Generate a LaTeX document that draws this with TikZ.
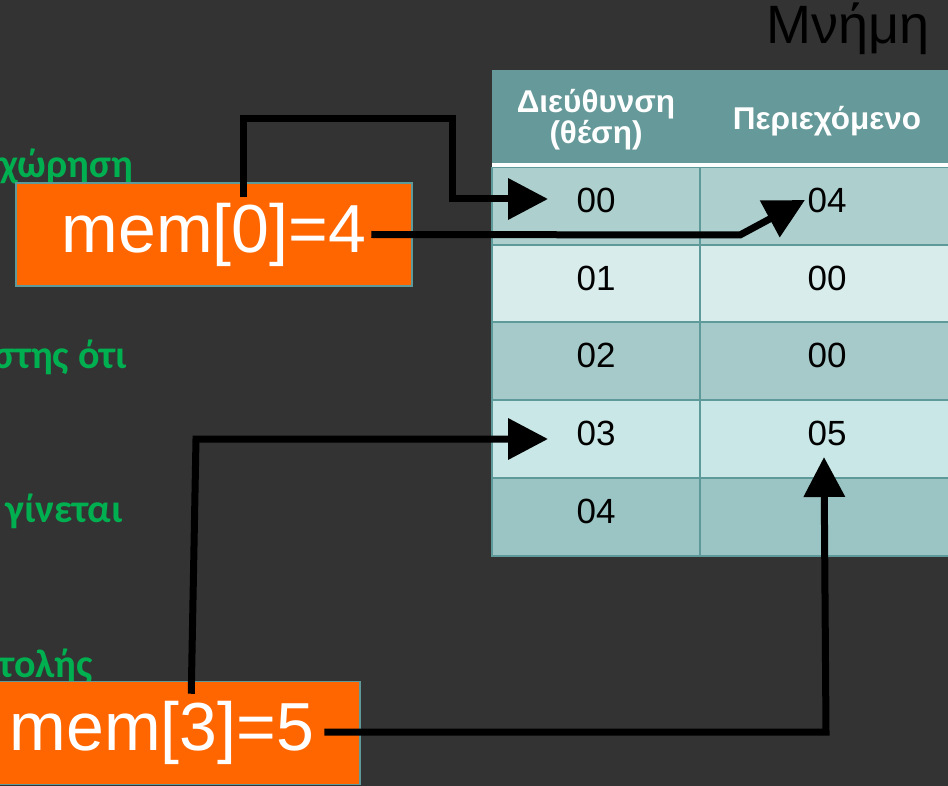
\documentclass[tikz,border=0pt]{standalone}
\usepackage{fontspec}
\setmainfont{Liberation Sans}
\newfontfamily\notefont{Carlito}
\usetikzlibrary{arrows.meta,calc}
\definecolor{bg}{HTML}{333333}
\definecolor{headfill}{HTML}{669999}
\definecolor{gridline}{HTML}{5E9A99}
\definecolor{rowA}{HTML}{ADCFCE}
\definecolor{rowB}{HTML}{D8ECEC}
\definecolor{rowC}{HTML}{A6CAC9}
\definecolor{rowD}{HTML}{C8E7E6}
\definecolor{rowE}{HTML}{9BC5C4}
\definecolor{boxorange}{HTML}{FF6600}
\definecolor{notegreen}{HTML}{00B050}
\tikzset{
  cellA/.style={draw=gridline, line width=1.5pt, inner sep=0pt, minimum width=208pt, minimum height=78pt,
    font=\fontsize{35}{37}\selectfont, text=black, text height=25pt, text depth=12pt},
  cellB/.style={cellA, minimum width=254pt},
  headtext/.style={anchor=base, inner sep=0pt, text=white, font=\bfseries\fontsize{31.5}{33}\selectfont},
  membox/.style={fill=boxorange, draw=gridline, line width=1.5pt, inner sep=0pt, minimum width=396pt, minimum height=103pt, text=white, font=\fontsize{68}{70}\selectfont},
  note/.style={text=notegreen, font=\notefont\bfseries\fontsize{40}{42}\selectfont, anchor=base east, inner sep=0pt},
  link/.style={line width=7pt, draw=black, -{Triangle[length=40pt,width=40pt]}},
}
\begin{document}
\begin{tikzpicture}[x=1pt,y=-1pt]
  \fill[bg] (0,0) rectangle (948,786);
  \useasboundingbox (0,0) rectangle (948,786);

  % title
  \node[anchor=base east, inner sep=0pt, font=\fontsize{54}{56}\selectfont, text=black] (title) at (930,44) {Μνήμη};

  % table header
  \fill[headfill] (492,70) rectangle (954,163);
  \fill[white] (492,163) rectangle (954,168);
  \node[headtext] (h1a) at (596,113) {Διεύθυνση};
  \node[headtext] (h1b) at (596,144) {(θέση)};
  \node[headtext] (h2) at (827,130) {Περιεχόμενο};

  % table rows
  \node[cellA, fill=rowA] (a0) at (596,206.5) {00};
  \node[cellB, fill=rowA] (v0) at (827,206.5) {04};
  \node[cellA, fill=rowB] (a1) at (596,284) {01};
  \node[cellB, fill=rowB] (v1) at (827,284) {00};
  \node[cellA, fill=rowC] (a2) at (596,361) {02};
  \node[cellB, fill=rowC] (v2) at (827,361) {00};
  \node[cellA, fill=rowD] (a3) at (596,439) {03};
  \node[cellB, fill=rowD] (v3) at (827,439) {05};
  \node[cellA, fill=rowE] (a4) at (596,517) {04};
  \node[cellB, fill=rowE] (v4) at (827,517) {};

  % side notes
  \node[note] (n1) at (133,178) {χώρηση};
  \node[note] (n2) at (127,368) {στης ότι};
  \node[note] (n3) at (123,522) {γίνεται};
  \node[note] (n4) at (93,677) {τολής};

  % assignment boxes
  \node[membox] (m0) at (214,234.5) {mem[0]=4};
  \node[membox] (m3) at (162,733) {mem[3]=5};

  % connector start points
  \coordinate (s0a) at ($(m0.north west)+(228,15)$);
  \coordinate (s0b) at ($(m0.west)+(356,0)$);
  \coordinate (s3a) at ($(m3.north west)+(228,13)$);
  \coordinate (s3b) at ($(m3.west)+(361,-1)$);

  % connectors
  \draw[link] (s0a) -- ++(0,-79) -| (452,199) -- ($(a0.center)+(-48,-7.5)$);
  \draw[link] (s0b) -- (740,235) -- ($(v0.center)+(-22,-6.5)$);
  \draw[link] (s3a) -- (196,439) -- ($(a3.center)+(-48,0)$);
  \draw[link] (s3b) -- (826,732) -- ($(v3.center)+(-3,18)$);
\end{tikzpicture}
\end{document}
